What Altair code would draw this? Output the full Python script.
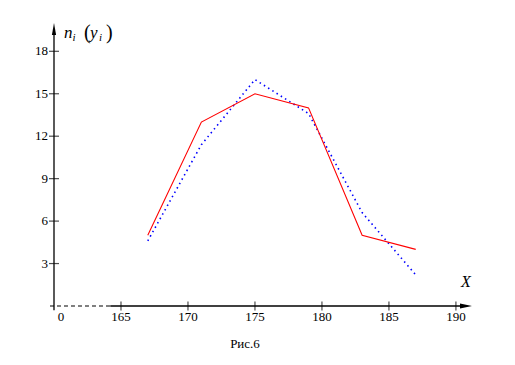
import altair as alt
import pandas as pd

# data
x_vals = [167, 171, 175, 179, 183, 187]
empirical = [5, 13, 15, 14, 5, 4]
theoretical = [4.6, 11.4, 16.0, 13.6, 6.6, 2.2]
x_ticks = [165, 170, 175, 180, 185, 190]
y_ticks = [3, 6, 9, 12, 15, 18]

FONT = "Times New Roman, Times, Liberation Serif, DejaVu Serif, Noto Serif, serif"
xs = alt.Scale(domain=[160, 191.2], nice=False, zero=False)
ys = alt.Scale(domain=[0, 20], nice=False, zero=False)

df = pd.DataFrame({"x": x_vals, "emp": empirical, "theo": theoretical})
one = pd.DataFrame({"a": [0]})
xt = pd.DataFrame({"v": x_ticks, "lab": [str(v) for v in x_ticks]})
yt = pd.DataFrame({"v": y_ticks, "lab": [str(v) for v in y_ticks]})


def XF(f):
    return alt.X(f, type="quantitative", scale=xs, axis=None)


def YF(f):
    return alt.Y(f, type="quantitative", scale=ys, axis=None)


def XD(v):
    return alt.XDatum(v, type="quantitative", scale=xs, axis=None)


def YD(v):
    return alt.YDatum(v, type="quantitative", scale=ys, axis=None)


red = alt.Chart(df).mark_line(color="#ff0000", strokeWidth=1.1).encode(x=XF("x"), y=YF("emp"))
blue = alt.Chart(df).mark_line(color="#0000ff", strokeWidth=1.6, strokeDash=[1.5, 3.5]).encode(
    x=XF("x"), y=YF("theo"))

y_axis = alt.Chart(one).mark_rule(color="black", strokeWidth=1.3).encode(
    x=XD(160), y=YD(-0.3), y2=alt.Y2Datum(19.5))
x_dash = alt.Chart(one).mark_rule(color="black", strokeWidth=1.2, strokeDash=[4, 3]).encode(
    x=XD(159.7), x2=alt.X2Datum(164.2), y=YD(0))
x_solid = alt.Chart(one).mark_rule(color="black", strokeWidth=1.3).encode(
    x=XD(164.2), x2=alt.X2Datum(190.8), y=YD(0))

y_arrow = alt.Chart(one).mark_point(shape="M0,-1L0.35,1L-0.35,1Z", filled=True, size=144,
                                    color="black", opacity=1).encode(x=XD(160), y=YD(19.58))
x_arrow = alt.Chart(one).mark_point(shape="M1,0L-1,-0.4L-1,0.4Z", filled=True, size=144,
                                    color="black", opacity=1).encode(x=XD(190.75), y=YD(0))

y_tk = alt.Chart(yt).mark_tick(orient="horizontal", size=10, thickness=1.2, color="black").encode(
    x=XD(160), y=YF("v"))
x_tk = alt.Chart(xt).mark_tick(orient="vertical", size=9, thickness=1.2, color="black").encode(
    x=XF("v"), y=YD(0))

y_lab = alt.Chart(yt).mark_text(align="right", baseline="middle", dx=-6, font=FONT, fontSize=13,
                                color="black").encode(x=XD(160), y=YF("v"), text="lab:N")
x_lab = alt.Chart(xt).mark_text(align="center", baseline="middle", dy=11, font=FONT, fontSize=13,
                                color="black").encode(x=XF("v"), y=YD(0), text="lab:N")
zero_lab = alt.Chart(one).mark_text(align="center", baseline="middle", dx=7, dy=11, font=FONT,
                                    fontSize=13, color="black", text="0").encode(x=XD(160), y=YD(0))


def txt(s, x, y, size, italic=False, align="left"):
    return alt.Chart(one).mark_text(text=s, font=FONT, fontSize=size, align=align, baseline="middle",
                                    fontStyle="italic" if italic else "normal", color="black").encode(
        x=alt.value(x), y=alt.value(y))


title_parts = [
    txt("n", 10, 10, 17, True),
    txt("i", 18.5, 15, 11, True),
    txt("(", 30, 10, 20),
    txt("y", 36, 10, 17, True),
    txt("i", 45, 15, 11, True),
    txt(")", 52, 10, 20),
]
x_name = txt("X", 412, 259, 16, True, "center")
caption = txt("Рис.6", 191, 321, 13, False, "center")

chart = alt.layer(
    y_axis, x_dash, x_solid, y_arrow, x_arrow, y_tk, x_tk, y_lab, x_lab, zero_lab,
    blue, red, *title_parts, x_name, caption
).properties(
    width=418, height=283,
    padding={"left": 46, "top": 15, "right": 30, "bottom": 48},
    autosize="none",
).configure_view(stroke=None)

chart.save("out.html", embed_options={"renderer": "svg", "actions": False})
